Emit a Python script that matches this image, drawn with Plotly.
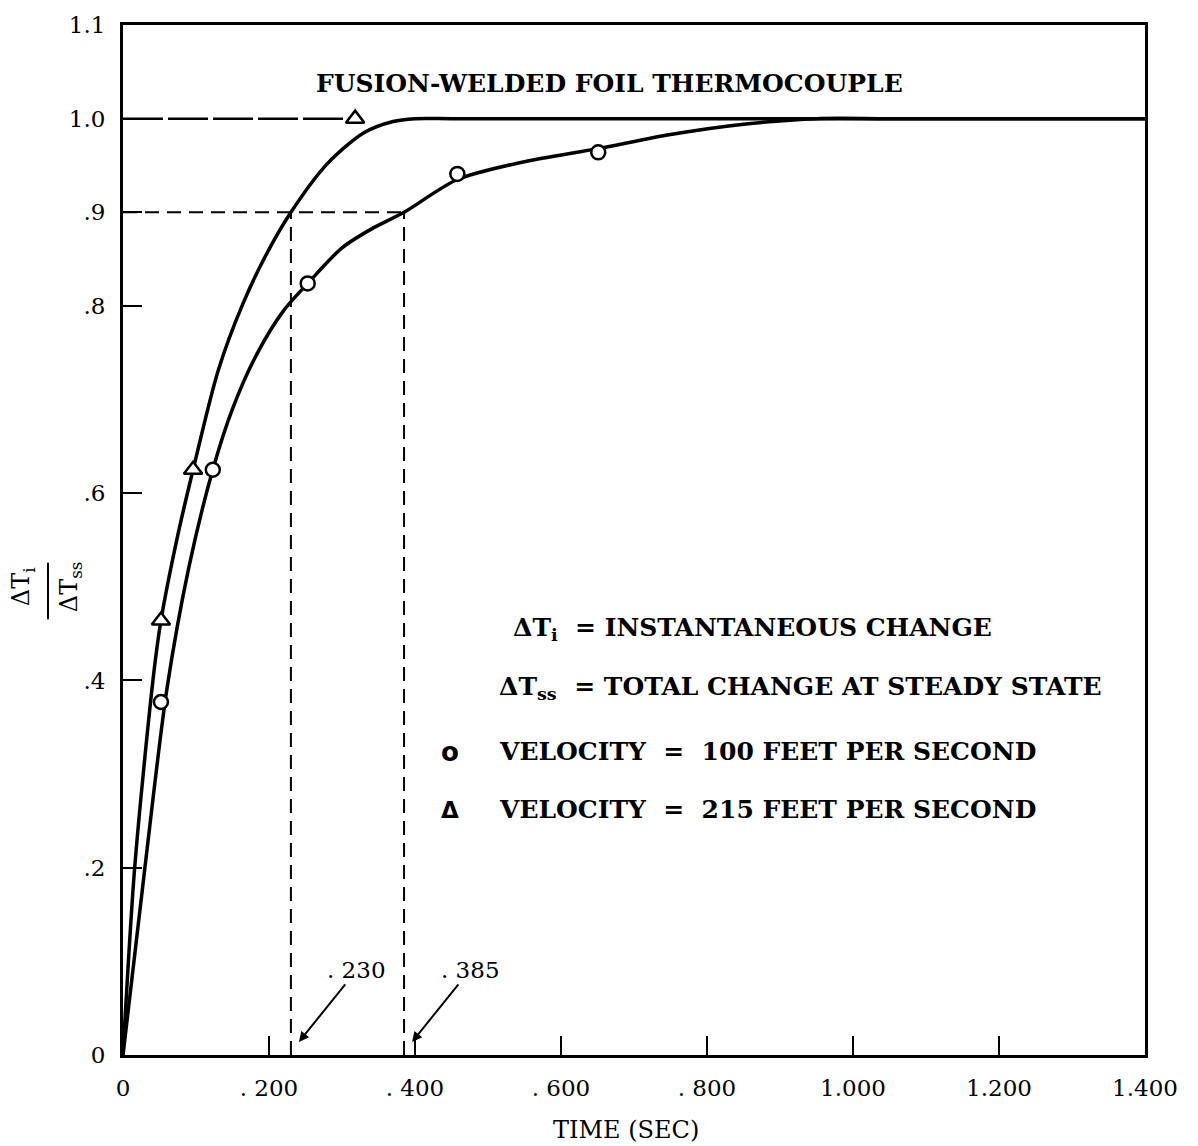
import plotly.graph_objects as go

# curves (time in sec, dT_i / dT_ss)
fast_curve_x = [0, 0.016, 0.041, 0.052, 0.075, 0.096, 0.13, 0.163, 0.195, 0.23, 0.28, 0.33, 0.37, 0.40,
                0.45, 0.6, 1.4]
fast_curve_y = [0, 0.2, 0.4, 0.464, 0.555, 0.625, 0.73, 0.8, 0.853, 0.9, 0.952, 0.985, 0.997, 1.0,
                1.0, 1.0, 1.0]
slow_curve_x = [0, 0.03, 0.06, 0.09, 0.123, 0.15, 0.183, 0.22, 0.253, 0.30, 0.34, 0.385, 0.458, 0.55,
                0.651, 0.75, 0.85, 0.95, 1.05, 1.4]
slow_curve_y = [0, 0.2, 0.39, 0.52, 0.625, 0.69, 0.748, 0.795, 0.824, 0.862, 0.882, 0.9, 0.935, 0.954,
                0.968, 0.983, 0.994, 1.0, 1.0, 1.0]

# measured points
tri_x = [0.052, 0.096, 0.318]          # 215 ft/s
tri_y = [0.464, 0.625, 1.0]
circ_x = [0.052, 0.123, 0.253, 0.458, 0.651]   # 100 ft/s
circ_y = [0.377, 0.625, 0.824, 0.941, 0.964]

# 90 % response times
t90 = [0.230, 0.385]
t90_labels = [". 230", ". 385"]
level90 = 0.9
ref_end = 0.318

x_ticks = [0, 0.2, 0.4, 0.6, 0.8, 1.0, 1.2, 1.4]
x_ticktext = ["0", ". 200", ". 400", ". 600", ". 800", "1.000", "1.200", "1.400"]
y_ticks = [0, 0.2, 0.4, 0.6, 0.8, 0.9, 1.0, 1.1]
y_ticktext = ["0", ".2", ".4", ".6", ".8", ".9", "1.0", "1.1"]

FONT = "DejaVu Serif"
dash = "14px,8px"

fig = go.Figure()

# dashed guide lines
fig.add_trace(go.Scatter(x=[0, ref_end], y=[1.0, 1.0], mode="lines",
                         line=dict(color="black", width=2.5, dash="40px,5px"), hoverinfo="skip"))
fig.add_trace(go.Scatter(x=[0, t90[1]], y=[level90, level90], mode="lines",
                         line=dict(color="black", width=2, dash=dash), hoverinfo="skip"))
for t in t90:
    fig.add_trace(go.Scatter(x=[t, t], y=[0, level90], mode="lines",
                             line=dict(color="black", width=2, dash=dash), hoverinfo="skip"))

# fitted curves
fig.add_trace(go.Scatter(x=fast_curve_x, y=fast_curve_y, mode="lines",
                         line=dict(color="black", width=3.5, shape="spline", smoothing=0.8)))
fig.add_trace(go.Scatter(x=slow_curve_x, y=slow_curve_y, mode="lines",
                         line=dict(color="black", width=3.5, shape="spline", smoothing=0.8)))

# data points
fig.add_trace(go.Scatter(x=circ_x, y=circ_y, mode="markers",
                         marker=dict(symbol="circle", size=14, color="white",
                                     line=dict(color="black", width=2.5))))
fig.add_trace(go.Scatter(x=tri_x, y=tri_y, mode="markers",
                         marker=dict(symbol="triangle-up", size=16, color="white",
                                     line=dict(color="black", width=2.5))))

# .230 / .385 call-outs
for t, lab in zip(t90, t90_labels):
    fig.add_annotation(x=t + 0.011, y=0.014, ax=58, ay=-72, text=lab, showarrow=True,
                       arrowhead=2, arrowsize=1, arrowwidth=2, arrowcolor="black",
                       font=dict(family=FONT, size=23, color="black"))

fig.add_annotation(x=0.666, y=1.038, text="<b>FUSION-WELDED FOIL THERMOCOUPLE</b>", showarrow=False,
                   font=dict(family=FONT, size=25, color="black"))

# key
key_font = dict(family=FONT, size=25, color="black")
fig.add_annotation(x=0.532, y=0.455, xanchor="left", yanchor="middle", showarrow=False, font=key_font,
                   text="<b>ΔT<sub>i</sub>  = INSTANTANEOUS CHANGE</b>")
fig.add_annotation(x=0.512, y=0.392, xanchor="left", yanchor="middle", showarrow=False, font=key_font,
                   text="<b>ΔT<sub>ss</sub>  = TOTAL CHANGE AT STEADY STATE</b>")
fig.add_annotation(x=0.512, y=0.324, xanchor="left", yanchor="middle", showarrow=False, font=key_font,
                   text="<b>VELOCITY  =  100 FEET PER SECOND</b>")
fig.add_annotation(x=0.512, y=0.262, xanchor="left", yanchor="middle", showarrow=False, font=key_font,
                   text="<b>VELOCITY  =  215 FEET PER SECOND</b>")
fig.add_annotation(x=0.448, y=0.324, showarrow=False, text="<b>o</b>",
                   font=dict(family="DejaVu Sans", size=26, color="black"))
fig.add_annotation(x=0.448, y=0.262, showarrow=False, text="<b>Δ</b>",
                   font=dict(family="DejaVu Sans", size=23, color="black"))

# y axis label as a rotated fraction
fig.add_annotation(xref="paper", yref="paper", x=-0.098, y=0.455, xanchor="center", yanchor="middle",
                   textangle=-90, showarrow=False,
                   text="ΔT<sub>i</sub>", font=dict(family=FONT, size=24, color="black"))
fig.add_annotation(xref="paper", yref="paper", x=-0.052, y=0.455, xanchor="center", yanchor="middle",
                   textangle=-90, showarrow=False,
                   text="ΔT<sub>ss</sub>", font=dict(family=FONT, size=24, color="black"))
fig.add_shape(type="line", xref="paper", yref="paper", x0=-0.0734, x1=-0.0734, y0=0.423, y1=0.478,
              line=dict(color="black", width=2))

fig.add_annotation(xref="paper", yref="paper", x=0.492, y=-0.073, xanchor="center", yanchor="middle",
                   showarrow=False, text="TIME (SEC)", font=dict(family=FONT, size=24, color="black"))

axis_common = dict(showline=True, linecolor="black", linewidth=3, mirror=True,
                   ticks="inside", ticklen=19, tickwidth=2, tickcolor="black",
                   showgrid=False, zeroline=False,
                   tickfont=dict(family=FONT, size=23, color="black"))
fig.update_xaxes(range=[0, 1.4], tickvals=x_ticks, ticktext=x_ticktext, ticklabelstandoff=10, **axis_common)
fig.update_yaxes(range=[0, 1.1], tickvals=y_ticks, ticktext=y_ticktext, ticklabelstandoff=10, **axis_common)

fig.update_layout(width=1198, height=1146, showlegend=False,
                  margin=dict(l=123, r=53, t=20, b=91),
                  plot_bgcolor="white", paper_bgcolor="white",
                  font=dict(family=FONT, color="black"))

fig.write_html("out.html", config={"displayModeBar": False},
               post_script="document.body.style.margin='0';")
